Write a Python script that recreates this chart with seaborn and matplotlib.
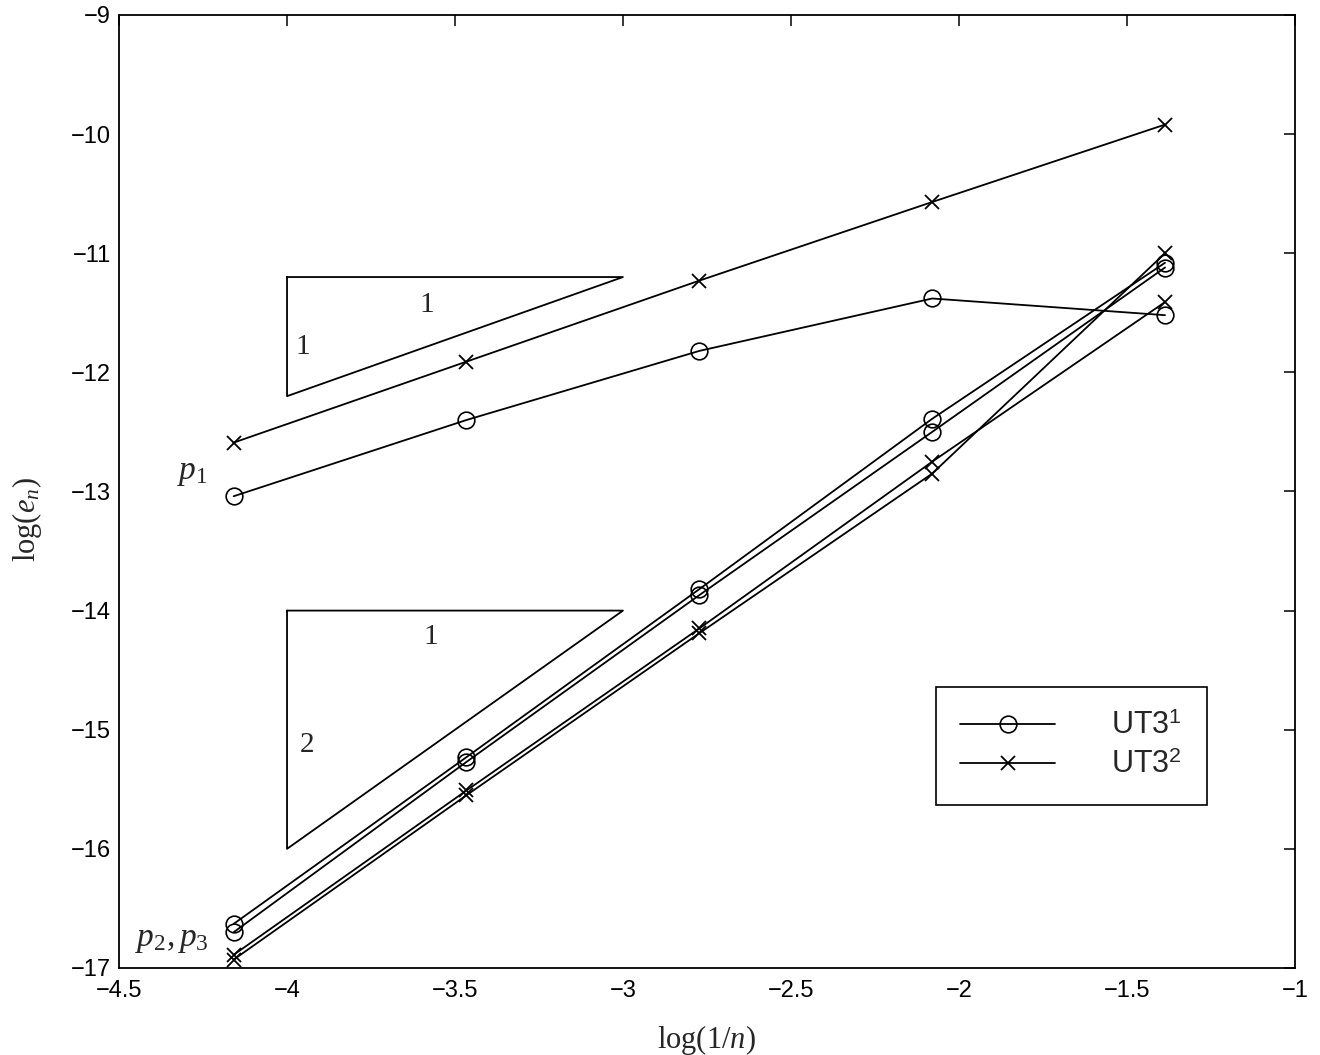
import numpy as np
import pandas as pd
import matplotlib
matplotlib.use("Agg")
import matplotlib.pyplot as plt
import seaborn as sns
from matplotlib.lines import Line2D

# ---------------- data ----------------
n_values = [64, 32, 16, 8, 4]
log_inv_n = list(np.log(1.0 / np.array(n_values, dtype=float)))

ut31_p1 = [-13.04, -12.40, -11.82, -11.38, -11.52]
ut32_p1 = [-12.59, -11.91, -11.23, -10.57, -9.92]
ut31_p2 = [-16.63, -15.23, -13.82, -12.39, -11.08]
ut31_p3 = [-16.70, -15.27, -13.87, -12.50, -11.12]
ut32_p2 = [-16.89, -15.51, -14.15, -12.75, -11.41]
ut32_p3 = [-16.93, -15.55, -14.19, -12.85, -11.00]

x_ticks = [-4.5, -4, -3.5, -3, -2.5, -2, -1.5, -1]
y_ticks = [-17, -16, -15, -14, -13, -12, -11, -10, -9]

# slope triangles (x, y vertices)
tri1_x = [-4, -3, -4, -4]
tri1_y = [-11.2, -11.2, -12.2, -11.2]
tri2_x = [-4, -3, -4, -4]
tri2_y = [-14, -14, -16, -14]

# ---------------- style ----------------
sns.set_style("white")
plt.rcParams["font.family"] = ["Liberation Sans", "DejaVu Sans"]
plt.rcParams["mathtext.fontset"] = "custom"
plt.rcParams["mathtext.rm"] = "Liberation Serif"
plt.rcParams["mathtext.it"] = "Liberation Serif:italic"
plt.rcParams["mathtext.sf"] = "Liberation Sans"

fig = plt.figure(figsize=(13.2, 10.55), dpi=100)
ax = fig.add_axes([0.0902, 0.0825, 0.8907, 0.9033])

line_kw = dict(color="black", linewidth=1.3, sort=False, estimator=None)
circ_kw = dict(marker="o", markersize=12, markerfacecolor="none",
               markeredgecolor="black", markeredgewidth=1.2)
cross_kw = dict(marker="x", markersize=9.5, markeredgecolor="black",
                markeredgewidth=1.3)

series = [
    (ut32_p1, cross_kw),
    (ut31_p1, circ_kw),
    (ut31_p2, circ_kw),
    (ut31_p3, circ_kw),
    (ut32_p2, cross_kw),
    (ut32_p3, cross_kw),
]
for yv, mk in series:
    df = pd.DataFrame({"x": log_inv_n, "y": yv})
    sns.lineplot(data=df, x="x", y="y", ax=ax, **line_kw, **mk)

# triangles
ax.plot(tri1_x, tri1_y, color="black", linewidth=1.3)
ax.plot(tri2_x, tri2_y, color="black", linewidth=1.3)

serif = ["Liberation Serif", "DejaVu Serif"]
ax.text(-3.583, -11.435, "1", fontsize=21, family=serif, ha="center", va="center")
ax.text(-3.952, -11.79, "1", fontsize=21, family=serif, ha="center", va="center")
ax.text(-3.571, -14.22, "1", fontsize=21, family=serif, ha="center", va="center")
ax.text(-3.94, -15.13, "2", fontsize=21, family=serif, ha="center", va="center")

ax.text(-4.283, -12.84, r"$p_1$", fontsize=24, ha="center", va="center")
ax.text(-4.342, -16.76, r"$p_2, p_3$", fontsize=24, ha="center", va="center")

# axes
ax.set_xlim(-4.5, -1)
ax.set_ylim(-17, -9)
ax.set_xticks(x_ticks)
ax.set_yticks(y_ticks)
ax.set_xticklabels([f"{v:g}".replace("-", "\u2212") for v in x_ticks])
ax.set_yticklabels([f"{v:g}".replace("-", "\u2212") for v in y_ticks])
ax.tick_params(direction="in", length=8, width=1.1, top=True, right=True,
               labelsize=17, pad=6, colors="black")
ax.tick_params(axis="x", pad=9)
for s in ax.spines.values():
    s.set_visible(True)
    s.set_color("black")
    s.set_linewidth(1.3)

ax.set_xlabel("log(1/$n$)", fontsize=22, family=serif)
ax.set_ylabel("log($e_n$)", fontsize=22, family=serif)
ax.xaxis.set_label_coords(0.5, -0.058)
ax.yaxis.set_label_coords(-0.064, 0.47)

# legend
handles = [
    Line2D([], [], color="black", linewidth=1.3, **circ_kw),
    Line2D([], [], color="black", linewidth=1.3, **cross_kw),
]
labels = [r"UT3$^{\mathsf{1}}$", r"UT3$^{\mathsf{2}}$"]
leg = ax.legend(handles, labels, loc="upper right", bbox_to_anchor=(0.925, 0.295),
                borderaxespad=0, fontsize=22, handlelength=3.1, handletextpad=1.85,
                labelspacing=0.3, borderpad=0.8, frameon=True, fancybox=False,
                framealpha=1, edgecolor="black")
leg.get_frame().set_linewidth(1.2)

fig.savefig("out.png", dpi=100, facecolor="white")
